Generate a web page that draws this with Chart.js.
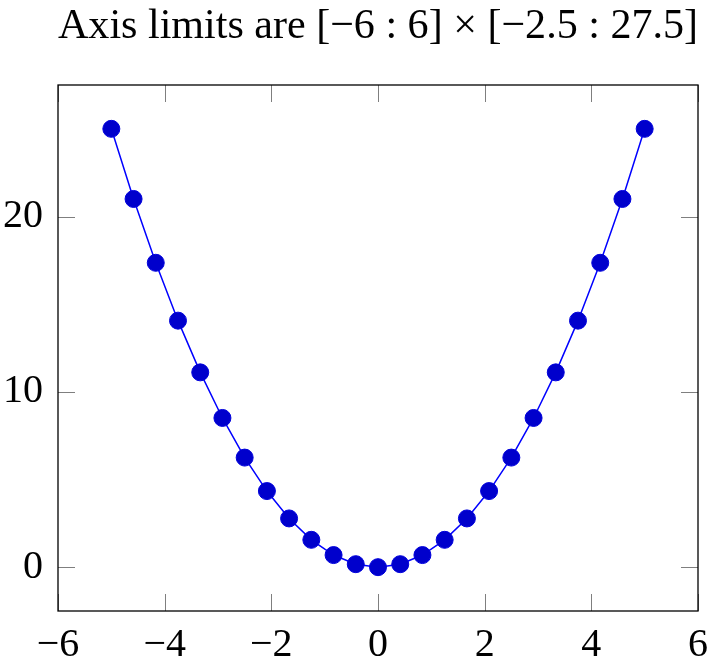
<!DOCTYPE html>
<html>
<head>
<meta charset="utf-8">
<script src="https://cdn.jsdelivr.net/npm/chart.js@4/dist/chart.umd.min.js"></script>
<style>
  html, body { margin: 0; padding: 0; background: #fff; }
  #wrap { width: 718px; height: 658px; }
</style>
</head>
<body>
<div id="wrap"><canvas id="myChart"></canvas></div>
<script>
// values
const xValues = [-5, -4.583, -4.167, -3.75, -3.333, -2.917, -2.5, -2.083, -1.667, -1.25, -0.833, -0.417,
                 0, 0.417, 0.833, 1.25, 1.667, 2.083, 2.5, 2.917, 3.333, 3.75, 4.167, 4.583, 5];
const yValues = [25, 21.0, 17.36, 14.06, 11.11, 8.51, 6.25, 4.34, 2.78, 1.56, 0.69, 0.17,
                 0, 0.17, 0.69, 1.56, 2.78, 4.34, 6.25, 8.51, 11.11, 14.06, 17.36, 21.0, 25];
const xTicks = [-6, -4, -2, 0, 2, 4, 6];
const yTicks = [0, 10, 20];
const titleText = 'Axis limits are [\u22126 : 6] \u00d7 [\u22122.5 : 27.5]';

const serif = "'Liberation Serif', 'DejaVu Serif', serif";
const fmt = v => String(v).replace('-', '\u2212');

// pgfplots-like box with inward ticks on all four sides
const framePlugin = {
    id: 'frame',
    afterDraw(chart) {
        const { ctx, chartArea: a, scales } = chart;
        const len = 17;
        ctx.save();
        ctx.strokeStyle = '#7f7f7f';
        ctx.lineWidth = 1;
        ctx.beginPath();
        xTicks.forEach(v => {
            const px = Math.round(scales.x.getPixelForValue(v)) + 0.5;
            ctx.moveTo(px, a.bottom); ctx.lineTo(px, a.bottom - len);
            ctx.moveTo(px, a.top); ctx.lineTo(px, a.top + len);
        });
        yTicks.forEach(v => {
            const py = Math.round(scales.y.getPixelForValue(v)) + 0.5;
            ctx.moveTo(a.left, py); ctx.lineTo(a.left + len, py);
            ctx.moveTo(a.right, py); ctx.lineTo(a.right - len, py);
        });
        ctx.stroke();
        ctx.strokeStyle = '#000';
        ctx.lineWidth = 1.3;
        ctx.strokeRect(a.left, a.top, a.right - a.left, a.bottom - a.top);
        ctx.restore();
    }
};

const points = xValues.map((x, i) => ({ x: x, y: yValues[i] }));

new Chart(document.getElementById('myChart').getContext('2d'), {
    type: 'scatter',
    data: {
        datasets: [{
            data: points,
            showLine: true,
            borderColor: '#0000ff',
            borderWidth: 1.5,
            pointRadius: 8.5,
            pointBackgroundColor: 'rgb(0,0,204)',
            pointBorderColor: 'rgb(0,0,220)',
            pointBorderWidth: 1,
            tension: 0
        }]
    },
    options: {
        responsive: true,
        maintainAspectRatio: false,
        animation: false,
        events: [],
        layout: { padding: 0 },
        plugins: {
            legend: { display: false },
            tooltip: { enabled: false },
            title: {
                display: true,
                text: titleText,
                fullSize: false,
                color: '#000',
                font: { family: serif, size: 43, weight: 'normal', lineHeight: 1.2 },
                padding: { top: 1, bottom: 32.4 }
            }
        },
        scales: {
            x: {
                type: 'linear',
                min: -6,
                max: 6,
                afterBuildTicks: s => { s.ticks = xTicks.map(v => ({ value: v })); },
                afterFit: s => { s.height = 47; },
                grid: { display: false, drawTicks: false },
                border: { display: false },
                ticks: {
                    color: '#000',
                    padding: 10,
                    maxRotation: 0,
                    font: { family: serif, size: 40 },
                    callback: v => fmt(v)
                }
            },
            y: {
                type: 'linear',
                min: -2.5,
                max: 27.5,
                afterBuildTicks: s => { s.ticks = yTicks.map(v => ({ value: v })); },
                afterFit: s => { s.width = 58; },
                grid: { display: false, drawTicks: false },
                border: { display: false },
                ticks: {
                    color: '#000',
                    padding: 15,
                    font: { family: serif, size: 40 },
                    callback: v => fmt(v)
                }
            }
        }
    },
    plugins: [framePlugin]
});
</script>
</body>
</html>
